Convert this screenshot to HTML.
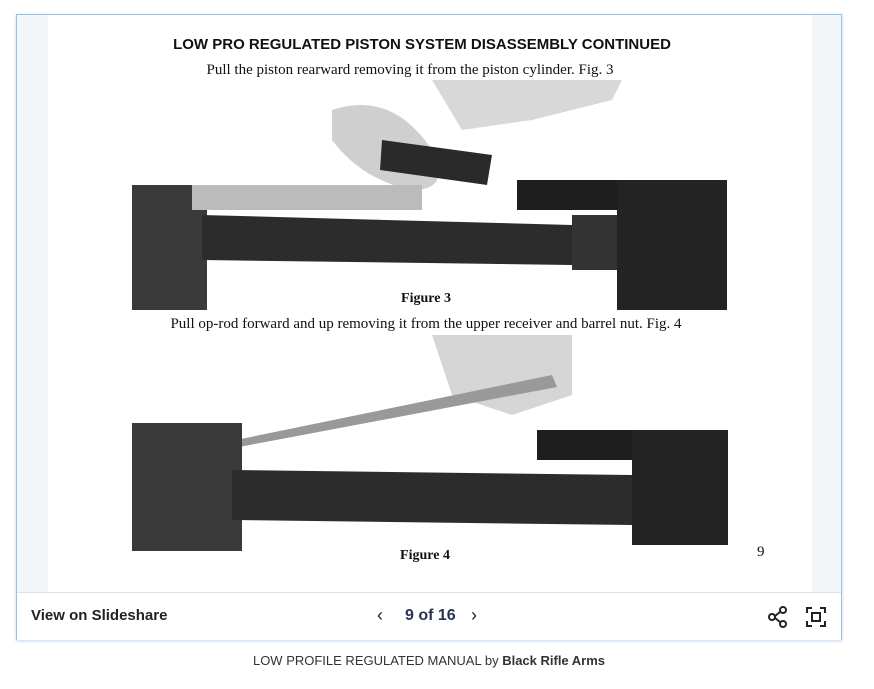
<!DOCTYPE html>
<html><head><meta charset="utf-8"><style>
body{margin:0;width:874px;height:689px;background:#fff;position:relative;overflow:hidden;font-family:"Liberation Sans",sans-serif}
.frame{position:absolute;left:16px;top:14px;width:824px;height:624px;border:1px solid #8fc3f0;background:#f4f5f9;box-shadow:0 1px 3px rgba(100,150,220,.4)}
.page{position:absolute;left:31px;top:0;width:764px;height:577px;background:#fff}
.t{position:absolute;white-space:nowrap}
.bar{position:absolute;left:0;top:577px;width:824px;height:47px;background:#fff;border-top:1px solid #dde3ee}
</style></head><body>
<div class="frame">
<div class="page">
<div class="t" style="left:-8px;width:764px;text-align:center;top:21px;font-weight:bold;font-size:15px;color:#111">LOW PRO REGULATED PISTON SYSTEM DISASSEMBLY CONTINUED</div>
<div class="t" style="left:-20px;width:764px;text-align:center;top:47px;font-family:'Liberation Serif',serif;font-size:15px;color:#111">Pull the piston rearward removing it from the piston cylinder. Fig. 3</div>
<svg style="position:absolute;left:84px;top:65px" width="596" height="230">
<rect width="596" height="230" fill="#fff"/>
<path d="M210 0 L300 0 L330 50 L400 40 L480 20 L490 0 Z" fill="#d8d8d8"/>
<path d="M200 30 Q260 10 300 70 Q320 110 280 110 Q230 100 200 60Z" fill="#cfcfcf"/>
<path d="M250 60 L360 75 L355 105 L248 90Z" fill="#2a2a2a"/>
<rect x="0" y="105" width="75" height="125" fill="#3a3a3a"/>
<rect x="60" y="105" width="230" height="25" fill="#bbb"/>
<path d="M70 135 L440 145 L440 185 L70 180Z" fill="#2c2c2c"/>
<rect x="385" y="100" width="100" height="30" fill="#1e1e1e"/>
<rect x="440" y="135" width="55" height="55" fill="#333"/>
<rect x="485" y="100" width="110" height="130" fill="#232323"/>
<text x="294" y="222" font-family="Liberation Serif,serif" font-weight="bold" font-size="14" text-anchor="middle" fill="#111">Figure 3</text>
</svg>
<div class="t" style="left:-4px;width:764px;text-align:center;top:301px;font-family:'Liberation Serif',serif;font-size:15px;color:#111">Pull op-rod forward and up removing it from the upper receiver and barrel nut. Fig. 4</div>
<svg style="position:absolute;left:84px;top:320px" width="596" height="235">
<rect width="596" height="216" fill="#fff"/>
<path d="M300 0 L440 0 L440 60 L380 80 L320 60 Z" fill="#d5d5d5"/>
<path d="M70 112 L420 40 L425 52 L75 118Z" fill="#999"/>
<rect x="0" y="88" width="110" height="128" fill="#3a3a3a"/>
<path d="M100 135 L500 140 L500 190 L100 185Z" fill="#2c2c2c"/>
<rect x="405" y="95" width="95" height="30" fill="#1e1e1e"/>
<rect x="500" y="95" width="96" height="115" fill="#232323"/>
<text x="293" y="224" font-family="Liberation Serif,serif" font-weight="bold" font-size="14" text-anchor="middle" fill="#111">Figure 4</text>
</svg>
<div class="t" style="left:709px;top:529px;font-family:'Liberation Serif',serif;font-size:15px;color:#111">9</div>
</div>
<div class="bar">
<div class="t" style="left:14px;top:14px;font-weight:bold;font-size:15px;color:#222">View on Slideshare</div>
<div class="t" style="left:360px;top:12px;font-size:18px;color:#222">&#8249;</div>
<div class="t" style="left:388px;top:14px;font-weight:bold;font-size:16px;color:#2b3350">9 of 16</div>
<div class="t" style="left:454px;top:12px;font-size:18px;color:#222">&#8250;</div>
<svg style="position:absolute;left:750px;top:13px" width="22" height="22"><circle cx="16" cy="4" r="3" fill="none" stroke="#222" stroke-width="2"/><circle cx="5" cy="11" r="3" fill="none" stroke="#222" stroke-width="2"/><circle cx="16" cy="18" r="3" fill="none" stroke="#222" stroke-width="2"/><path d="M8 10 L13 6 M8 12 L13 16" stroke="#222" stroke-width="2"/></svg>
<svg style="position:absolute;left:789px;top:14px" width="20" height="20"><path d="M1 6V1H6 M14 1H19V6 M19 14V19H14 M6 19H1V14" fill="none" stroke="#222" stroke-width="2"/><rect x="6" y="6" width="8" height="8" fill="none" stroke="#222" stroke-width="2"/></svg>
</div>
</div>
<div class="t" style="left:0;width:858px;text-align:center;top:653px;font-size:13px;color:#333">LOW PROFILE REGULATED MANUAL by <b>Black Rifle Arms</b></div>
</body></html>
